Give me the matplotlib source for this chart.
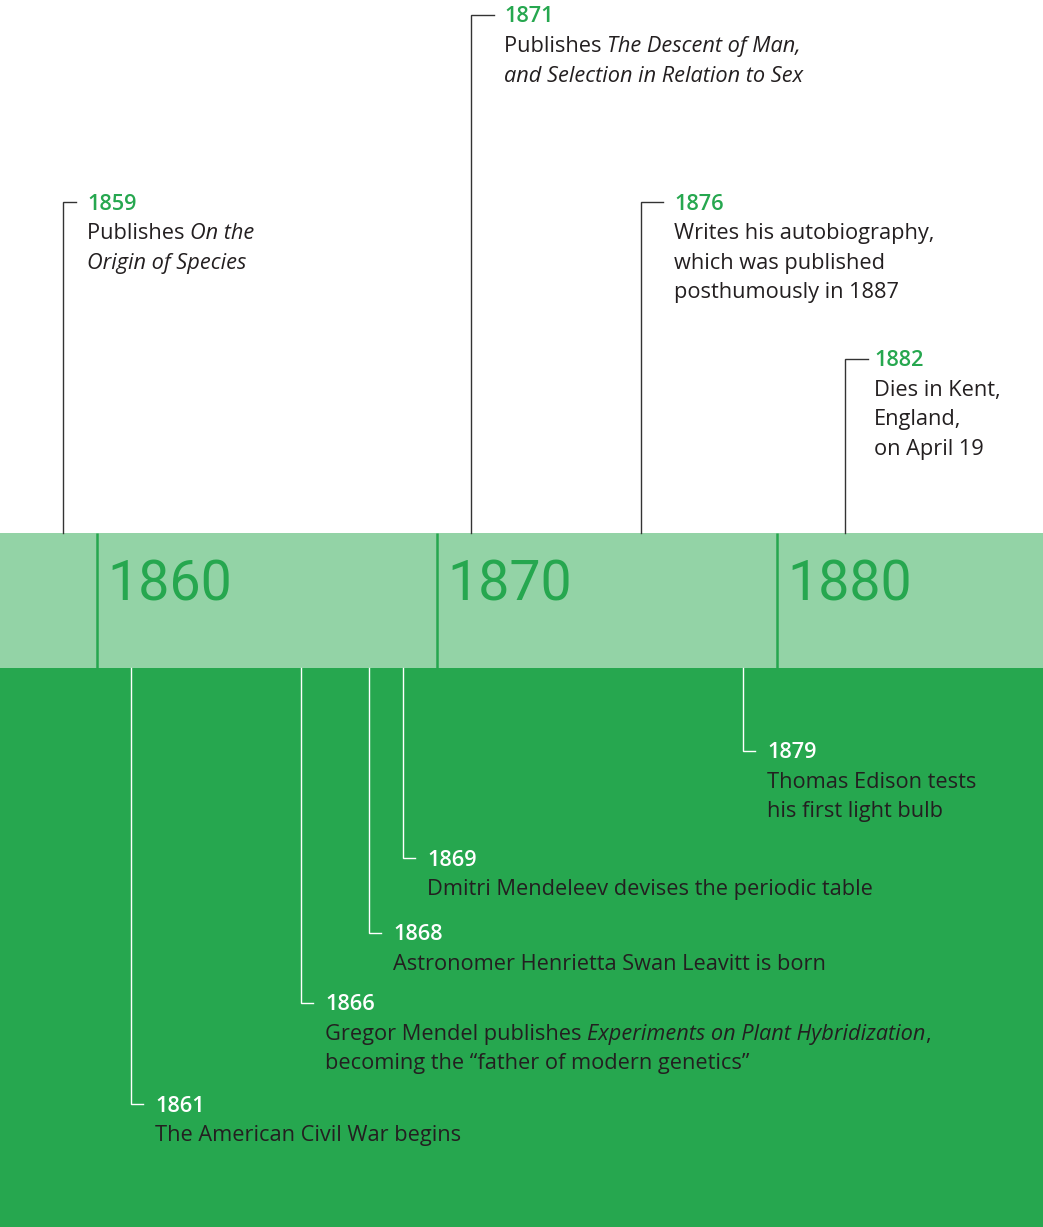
import matplotlib.pyplot as plt
from matplotlib.transforms import offset_copy

plt.rcParams['font.family'] = ['Open Sans', 'DejaVu Sans']

# decades on the band
decades = [1860, 1870, 1880]

# events above the band (Darwin's life); each line is a list of (text, italic)
top_years = [1859, 1871, 1876, 1882]
top_texts = [
    [[("Publishes ", False), ("On the", True)],
     [("Origin of Species", True)]],
    [[("Publishes ", False), ("The Descent of Man,", True)],
     [("and Selection in Relation to Sex", True)]],
    [[("Writes his autobiography,", False)],
     [("which was published", False)],
     [("posthumously in 1887", False)]],
    [[("Dies in Kent,", False)],
     [("England,", False)],
     [("on April 19", False)]],
]

# events below the band (world events)
bottom_years = [1861, 1866, 1868, 1869, 1879]
bottom_texts = [
    [[("The American Civil War begins", False)]],
    [[("Gregor Mendel publishes ", False), ("Experiments on Plant Hybridization", True), (",", False)],
     [("becoming the \u201cfather of modern genetics\u201d", False)]],
    [[("Astronomer Henrietta Swan Leavitt is born", False)]],
    [[("Dmitri Mendeleev devises the periodic table", False)]],
    [[("Thomas Edison tests", False)],
     [("his first light bulb", False)]],
]

# layout (pixels)
W, H = 1043, 1227
band_top, band_bot = 533, 668
top_stub_y = [202, 15, 202, 359]
top_stub_len = [13, 23, 22, 23]
top_text_dx = [24, 33, 33, 29]
bottom_stub_y = [1104, 1003, 933, 858, 751]
fs = 15.7

green = '#26A74F'
light = '#93D3A6'
dark = '#231F20'
grey = '#333333'

fig = plt.figure(figsize=(W / 100, H / 100), dpi=100)
ax = fig.add_axes([0, 0, 1, 1])
px_per_year = 34
x0 = 1860 - 97 / px_per_year
ax.set_xlim(x0, x0 + W / px_per_year)
ax.set_ylim(H, 0)
ax.axis('off')

ax.axhspan(band_top, band_bot, color=light, lw=0)
ax.axhspan(band_bot, H, color=green, lw=0)
ax.vlines(decades, band_top, band_bot, color=green, lw=1.8)
for d in decades:
    ax.text(d, 585, str(d), transform=offset_copy(ax.transData, fig, x=10, units='dots'),
            fontsize=40, family='Roboto', fontweight='normal', color=green,
            va='center', ha='left')


def draw_lines(year, y_mid, dx, lines, year_color, text_color):
    tr = offset_copy(ax.transData, fig, x=dx, units='dots')
    base = y_mid + 7.5
    ax.text(year, base, str(year), transform=tr, fontsize=fs, fontweight='semibold',
            color=year_color, va='baseline', ha='left')
    for i, segs in enumerate(lines):
        prev = None
        for s, it in segs:
            style = 'italic' if it else 'normal'
            if prev is None:
                prev = ax.text(year, base + 29.5 * (i + 1), s, transform=tr, fontsize=fs,
                               style=style, color=text_color, va='baseline', ha='left')
            else:
                prev = ax.annotate(s, xy=(1, 0), xycoords=prev, fontsize=fs, style=style,
                                   color=text_color, va='bottom', ha='left')


for yr, sy, sl, dx, lines in zip(top_years, top_stub_y, top_stub_len, top_text_dx, top_texts):
    ax.plot([yr, yr, yr + sl / px_per_year], [band_top, sy, sy], color=grey, lw=1.0,
            solid_joinstyle='miter')
    draw_lines(yr, sy, dx, lines, green, dark)

for yr, sy, lines in zip(bottom_years, bottom_stub_y, bottom_texts):
    ax.plot([yr, yr, yr + 12 / px_per_year], [band_bot, sy, sy], color='white', lw=1.0,
            solid_joinstyle='miter')
    draw_lines(yr, sy, 24, lines, 'white', dark)

fig.savefig('out.png', dpi=100)
